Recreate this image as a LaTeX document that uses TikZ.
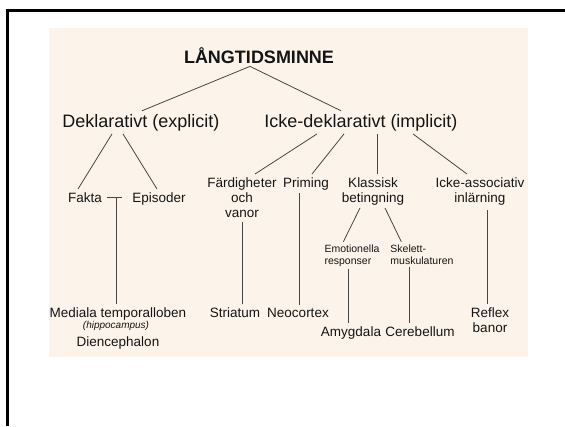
\documentclass[tikz,border=0pt]{standalone}
\usepackage{fontspec}
\setmainfont{Liberation Sans}
\usepackage{tikz}
\usetikzlibrary{positioning,calc}
\definecolor{ltpaper}{RGB}{252,244,234}
\definecolor{ltink}{RGB}{20,20,20}
\definecolor{ltline}{RGB}{70,70,70}
\tikzset{
  lvone/.style={font=\fontsize{18}{20}\selectfont, text=ltink, inner sep=3pt, anchor=base},
  lvtwo/.style={font=\fontsize{13.5}{15}\selectfont, text=ltink, inner sep=3pt,
                align=center, anchor=base},
  lvsmall/.style={font=\fontsize{10.5}{11.5}\selectfont, text=ltink, inner sep=3pt,
                  align=left, anchor=base},
  link/.style={draw=ltline, line width=0.8pt},
}

\begin{document}
\begin{tikzpicture}[x=1pt,y=-1pt]
\useasboundingbox (0,0) rectangle (565,426);
\fill[ltpaper] (49,28) rectangle (528,357);
\draw[line width=3pt] (7.5,426) -- (7.5,10.5) -- (565,10.5);
% top and the two main branches
\node[lvone, font=\fontsize{18}{20}\selectfont\bfseries] (ltm) at (259,63) {LÅNGTIDSMINNE};
\node[lvone] (dekl) at (141,127) {Deklarativt (explicit)};
\node[lvone] (ickedekl) at (361,127) {Icke-deklarativt (implicit)};
% second row (multi-line nodes sit on their last line)
\node[lvtwo] (fakta) at (85,202) {Fakta};
\node[lvtwo] (episoder) at (159,202) {Episoder};
\node[lvtwo] (fardig) at (242,217) {Färdigheter\\och\\vanor};
\node[lvtwo] (priming) at (306,187) {Priming};
\node[lvtwo] (klassisk) at (373,202) {Klassisk\\betingning};
\node[lvtwo] (ickeass) at (480,202) {Icke-associativ\\inlärning};
\node[lvsmall] (emot) at (352,264) {Emotionella\\responser};
\node[lvsmall] (skelett) at (422,264) {Skelett-\\muskulaturen};
% brain areas
\node[lvtwo] (medial) at (118,317) {Mediala temporalloben};
\node[lvtwo, font=\fontsize{10}{11}\selectfont\itshape] (hippo) at (116,328) {(hippocampus)};
\node[lvtwo] (dienc) at (118,346) {Diencephalon};
\node[lvtwo] (striatum) at (235,317) {Striatum};
\node[lvtwo] (neocortex) at (298,317) {Neocortex};
\node[lvtwo] (amygdala) at (351,336) {Amygdala};
\node[lvtwo] (cerebellum) at (420,336) {Cerebellum};
\node[lvtwo] (reflex) at (490,332) {Reflex\\banor};
% connectors
\draw[link] ([xshift=-9pt]ltm.south) -- ([xshift=1pt]dekl.north);
\draw[link] ([xshift=-9pt]ltm.south) -- ([xshift=-20pt]ickedekl.north);
\draw[link] ([xshift=-29pt]dekl.south) -- ([xshift=-7pt]fakta.north);
\draw[link] ([xshift=-18pt]dekl.south) -- ([xshift=-2pt]episoder.north);
\draw[link, shorten <=2pt, shorten >=7pt] (fakta.east) -- (fakta.east -| episoder.west);
\coordinate (faktafot) at ([xshift=11pt]fakta.east);
\draw[link] (faktafot) -- (faktafot |- medial.north);
\draw[link] ([xshift=-44pt]ickedekl.south) -- ([xshift=13pt]fardig.north);
\draw[link] ([xshift=-17pt]ickedekl.south) -- ([xshift=6pt]priming.north);
\draw[link] ([xshift=16pt]ickedekl.south) -- ([xshift=4pt]klassisk.north);
\draw[link] ([xshift=52pt]ickedekl.south) -- ([xshift=-13pt]ickeass.north);
\draw[link] ([xshift=-13pt]klassisk.south) -- ([xshift=22pt]emot.north west);
\draw[link] ([xshift=12pt]klassisk.south) -- ([xshift=14pt]skelett.north west);
\draw[link, shorten <=2pt] (fardig.south) -- (fardig.south |- striatum.north);
\coordinate (primfot) at ([xshift=-7pt]priming.south);
\draw[link] (primfot) -- (primfot |- neocortex.north);
\coordinate (emotfot) at ([xshift=-4pt]emot.south);
\draw[link] (emotfot) -- (emotfot |- amygdala.north);
\coordinate (skelfot) at ([xshift=-13pt]skelett.south);
\draw[link] (skelfot) -- (skelfot |- cerebellum.north);
\coordinate (assfot) at ([xshift=7pt]ickeass.south);
\draw[link, shorten <=2pt] (assfot) -- (assfot |- reflex.north);
\end{tikzpicture}
\end{document}
